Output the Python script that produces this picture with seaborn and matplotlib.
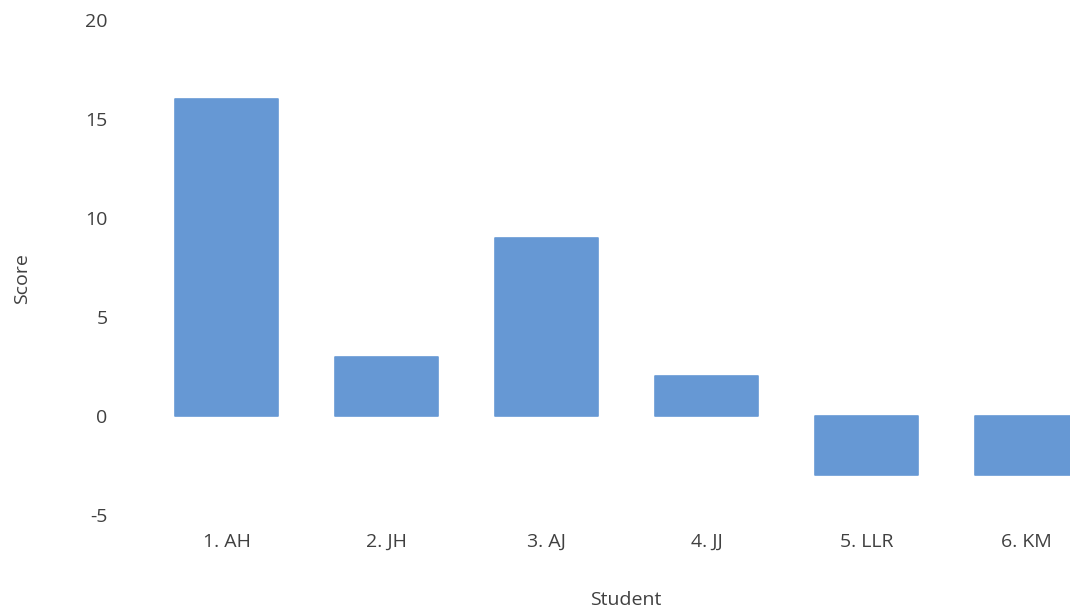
import matplotlib
matplotlib.use("Agg")
import matplotlib.pyplot as plt
import seaborn as sns
import pandas as pd

students = ["1. AH", "2. JH", "3. AJ", "4. JJ", "5. LLR", "6. KM"]
scores = [16, 3, 9, 2, -3, -3]
y_ticks = [-5, 0, 5, 10, 15, 20]

sns.set_theme(style="white")
plt.rcParams["font.family"] = ["Open Sans", "DejaVu Sans"]
plt.rcParams["axes.unicode_minus"] = False

text_color = "#404040"
bar_color = "#6698D4"
font_size = 14

df = pd.DataFrame({"Student": students, "Score": scores})

fig = plt.figure(figsize=(10.7, 6.12), dpi=100)
ax = fig.add_axes([146.5 / 1070, 97 / 612, 960 / 1070, 495 / 612])

sns.barplot(data=df, x="Student", y="Score", color=bar_color, saturation=1,
            width=0.64, ax=ax, edgecolor=bar_color, linewidth=1.2)
for p in ax.patches:
    p.set_joinstyle("round")

ax.set_ylim(-5, 20)
ax.set_yticks(y_ticks)
ax.set_xlim(-0.5, len(students) - 0.5)
for s in ax.spines.values():
    s.set_visible(False)
ax.tick_params(axis="both", length=0, labelsize=font_size, labelcolor=text_color)
ax.tick_params(axis="y", pad=28)
ax.tick_params(axis="x", pad=13)
ax.set_xlabel("")
ax.set_ylabel("")

fig.text(22 / 1070, 1 - 279 / 612, "Score", rotation=90, ha="center", va="center",
         fontsize=font_size, color=text_color)
fig.text(626 / 1070, 1 - 600 / 612, "Student", ha="center", va="center",
         fontsize=font_size, color=text_color)

fig.savefig("out.png", dpi=100)
